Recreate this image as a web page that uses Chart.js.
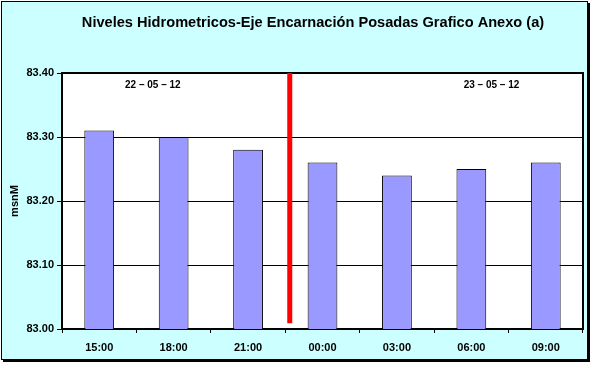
<!DOCTYPE html>
<html>
<head>
<meta charset="utf-8">
<script src="https://cdn.jsdelivr.net/npm/chart.js@4/dist/chart.umd.min.js"></script>
<style>
html,body{margin:0;padding:0;background:#fff;}
#wrap{position:absolute;left:0;top:0;width:595px;height:368px;}
</style>
</head>
<body>
<div id="wrap"><canvas id="c" width="595" height="368"></canvas></div>
<script>
const titleText = 'Niveles Hidrometricos-Eje Encarnación Posadas Grafico Anexo (a)';
const categories = ['15:00','18:00','21:00','00:00','03:00','06:00','09:00'];
const levels = [83.31, 83.30, 83.28, 83.26, 83.24, 83.25, 83.26];
const yTicks = [83.00, 83.10, 83.20, 83.30, 83.40];
const yAxisTitle = 'msnM';
const separatorX = 2.56;
const separatorY = [83.009, 83.40];
const dateLabels = ['22 – 05 – 12', '23 – 05 – 12'];
const dateLabelX = [0.72, 5.27];
const dateLabelY = [83.381, 83.381];

const frame = {
  id: 'frame',
  beforeDraw(chart) {
    const ctx = chart.ctx;
    ctx.save();
    ctx.fillStyle = '#fff';
    ctx.fillRect(0, 0, 595, 368);
    ctx.fillStyle = '#000';
    ctx.fillRect(3, 3, 587, 359);
    ctx.fillStyle = '#CCFFFF';
    ctx.fillRect(1, 1, 587, 359);
    ctx.strokeStyle = '#000';
    ctx.lineWidth = 1;
    ctx.strokeRect(1.5, 1.5, 586, 358);
    const a = chart.chartArea;
    ctx.fillStyle = '#fff';
    ctx.fillRect(a.left, a.top, a.right - a.left, a.bottom - a.top);
    ctx.fillStyle = '#000';
    ctx.font = 'bold 14.6px "Liberation Sans", Arial, sans-serif';
    ctx.textAlign = 'center';
    ctx.textBaseline = 'middle';
    ctx.fillText(titleText, 313, 23);
    ctx.restore();
  },
  afterDatasetsDraw(chart) {
    const ctx = chart.ctx;
    const a = chart.chartArea;
    const xs = chart.scales.x, ys = chart.scales.y;
    ctx.save();
    ctx.strokeStyle = '#000';
    ctx.lineWidth = 2;
    ctx.beginPath();
    ctx.moveTo(a.left, a.top);
    ctx.lineTo(a.right, a.top);
    ctx.lineTo(a.right, a.bottom);
    ctx.stroke();
    // separator line between days
    const sx = xs.getPixelForValue(separatorX);
    ctx.strokeStyle = '#FF0000';
    ctx.lineWidth = 5;
    ctx.lineCap = 'butt';
    ctx.beginPath();
    ctx.moveTo(sx, ys.getPixelForValue(separatorY[0]));
    ctx.lineTo(sx, ys.getPixelForValue(separatorY[1]));
    ctx.stroke();
    ctx.fillStyle = '#000';
    ctx.font = 'bold 10px "Liberation Sans", Arial, sans-serif';
    ctx.textAlign = 'center';
    ctx.textBaseline = 'middle';
    dateLabels.forEach((t, i) => {
      ctx.fillText(t, xs.getPixelForValue(dateLabelX[i]), ys.getPixelForValue(dateLabelY[i]));
    });
    ctx.restore();
  }
};

new Chart(document.getElementById('c'), {
  type: 'bar',
  data: {
    labels: categories,
    datasets: [
      {
        data: levels,
        backgroundColor: '#9999FF',
        borderColor: '#000',
        borderWidth: 1,
        barPercentage: 0.4,
        categoryPercentage: 1.0,
        grouped: false
      }
    ]
  },
  options: {
    responsive: false,
    animation: false,
    devicePixelRatio: 1,
    layout: { padding: { left: 0, top: 73, right: 12, bottom: 0 } },
    plugins: { legend: { display: false }, tooltip: { enabled: false } },
    scales: {
      x: {
        type: 'category',
        offset: true,
        grid: { offset: true, drawOnChartArea: false, drawTicks: true, tickLength: 4, color: '#000' },
        border: { display: true, color: '#000', width: 2 },
        ticks: { color: '#000', font: { family: '"Liberation Sans", Arial, sans-serif', size: 11, weight: 'bold' }, padding: 8, maxRotation: 0 },
        afterFit(s) { s.height = 39; }
      },
      y: {
        min: 83.0,
        max: 83.4,
        afterBuildTicks(s) { s.ticks = yTicks.map(v => ({ value: v })); },
        grid: { color: '#000', lineWidth: 1, tickLength: 5, tickColor: '#000' },
        border: { display: true, color: '#000', width: 2 },
        ticks: {
          color: '#000',
          font: { family: '"Liberation Sans", Arial, sans-serif', size: 11, weight: 'bold' },
          padding: 3,
          callback: v => Number(v).toFixed(2)
        },
        title: {
          display: true,
          text: yAxisTitle,
          color: '#000',
          font: { family: '"Liberation Sans", Arial, sans-serif', size: 11, weight: 'bold' },
          padding: { top: 8, bottom: 0 }
        },
        afterFit(s) { s.width = 62; }
      }
    }
  },
  plugins: [frame]
});
</script>
</body>
</html>
